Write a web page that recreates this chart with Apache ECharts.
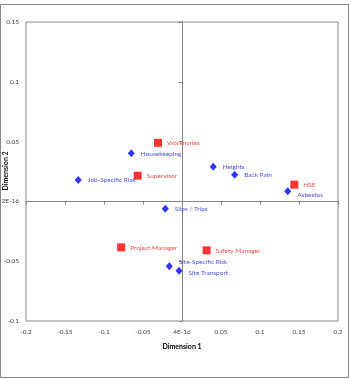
<!DOCTYPE html>
<html>
<head>
<meta charset="utf-8">
<script src="https://cdn.jsdelivr.net/npm/echarts@6/dist/echarts.min.js"></script>
<style>html,body{margin:0;padding:0;background:#fff;}#c{width:350px;height:379px;}</style>
</head>
<body>
<div id="c"></div>
<script>
// Risk factors (blue diamonds)
const riskNames = ['Housekeeping', 'Job-Specific Risk', 'Heights', 'Back Pain', 'Asbestos', 'Slips / Trips', 'Site-Specific Risk', 'Site Transport'];
const riskX = [-0.065, -0.133, 0.040, 0.0675, 0.1355, -0.0214, -0.0163, -0.0038];
const riskY = [0.0402, 0.0179, 0.029, 0.0223, 0.0084, -0.0061, -0.0543, -0.058];
// Roles (red squares)
const roleNames = ['Workmates', 'Supervisor', 'HSE', 'Project Manager', 'Safety Manager'];
const roleX = [-0.0308, -0.0568, 0.144, -0.078, 0.0316];
const roleY = [0.049, 0.0215, 0.014, -0.0384, -0.0409];
// Tick labels
const xZeroLabel = '4E-16';
const yZeroLabel = '2E-16';

const labelOffsets = {
  'Housekeeping': [0, 1],
  'Site-Specific Risk': [0, -4],
  'Site Transport': [0, 2],
  'Asbestos': [0, 4],
  'Project Manager': [0, 1],
  'Safety Manager': [0, 1]
};

const FONT = 'Lato';
function fmt(zero) {
  return function (v) {
    if (Math.abs(v) < 1e-9) return zero;
    return String(Math.round(v * 100) / 100);
  };
}
function mkData(names, xs, ys) {
  return names.map((n, i) => ({
    name: n,
    value: [xs[i], ys[i]],
    label: { offset: labelOffsets[n] || [0, 0] }
  }));
}

const axisColor = '#868686';
const labelColor = '#404040';

const chart = echarts.init(document.getElementById('c'));
const baseX = { type: 'value', min: -0.2, max: 0.2, interval: 0.05, splitLine: { show: false } };
const baseY = { type: 'value', min: -0.1, max: 0.15, interval: 0.05, splitLine: { show: false } };

chart.setOption({
  animation: false,
  backgroundColor: '#fff',
  graphic: [
    {
      type: 'rect', shape: { x: 0.5, y: 4.5, width: 348, height: 373 },
      style: { fill: 'none', stroke: axisColor, lineWidth: 1 }, silent: true, z: -1
    },
    {
      type: 'text', x: 6, y: 171, rotation: Math.PI / 2,
      style: { text: 'Dimension 2', fontWeight: 'bold', fontSize: 7, fontFamily: FONT, fill: '#000', align: 'center', verticalAlign: 'middle' },
      silent: true
    }
  ],
  grid: { left: 26, right: 12, top: 22, bottom: 58, outerBoundsMode: 'none', containLabel: false, show: true, borderColor: axisColor, borderWidth: 1, backgroundColor: 'transparent' },
  xAxis: [
    Object.assign({}, baseX, {
      position: 'bottom',
      axisLine: { show: false, onZero: false },
      axisTick: { show: false },
      axisLabel: { formatter: fmt(xZeroLabel), color: labelColor, fontSize: 6.5, fontFamily: FONT, margin: 7 },
      name: 'Dimension 1', nameLocation: 'middle', nameGap: 22,
      nameTextStyle: { fontWeight: 'bold', fontSize: 7, fontFamily: FONT, color: '#000' }
    }),
    Object.assign({}, baseX, {
      position: 'bottom',
      axisLine: { show: true, onZero: true, onZeroAxisIndex: 0, lineStyle: { color: axisColor, width: 1 } },
      axisTick: { show: true, inside: false, length: 3, lineStyle: { color: axisColor } },
      axisLabel: { show: false }
    }),
    Object.assign({}, baseX, {
      position: 'top',
      axisLine: { show: true, onZero: true, onZeroAxisIndex: 0, lineStyle: { color: axisColor, width: 1 } },
      axisTick: { show: true, inside: true, length: 3, lineStyle: { color: axisColor } },
      axisLabel: { show: false }
    })
  ],
  yAxis: [
    Object.assign({}, baseY, {
      position: 'left',
      axisLine: { show: false, onZero: false },
      axisTick: { show: false },
      axisLabel: { formatter: fmt(yZeroLabel), color: labelColor, fontSize: 6.5, fontFamily: FONT, margin: 7 }
    }),
    Object.assign({}, baseY, {
      position: 'left',
      axisLine: { show: true, onZero: true, onZeroAxisIndex: 0, lineStyle: { color: axisColor, width: 1 } },
      axisTick: { show: true, inside: false, length: 3, lineStyle: { color: axisColor } },
      axisLabel: { show: false }
    }),
    Object.assign({}, baseY, {
      position: 'right',
      axisLine: { show: true, onZero: true, onZeroAxisIndex: 0, lineStyle: { color: axisColor, width: 1 } },
      axisTick: { show: true, inside: true, length: 3, lineStyle: { color: axisColor } },
      axisLabel: { show: false }
    })
  ],
  series: [
    {
      type: 'scatter', name: 'Risks', xAxisIndex: 0, yAxisIndex: 0,
      symbol: 'diamond', symbolSize: [7, 8],
      itemStyle: { color: '#0000FF' },
      label: { show: true, position: 'right', distance: 6, formatter: '{b}', color: '#2222CC', fontSize: 6.5, fontFamily: FONT },
      data: mkData(riskNames, riskX, riskY)
    },
    {
      type: 'scatter', name: 'Roles', xAxisIndex: 0, yAxisIndex: 0,
      symbol: 'rect', symbolSize: 8,
      itemStyle: { color: '#FF0000' },
      label: { show: true, position: 'right', distance: 5, formatter: '{b}', color: '#E52020', fontSize: 6.5, fontFamily: FONT },
      data: mkData(roleNames, roleX, roleY)
    }
  ]
});
</script>
</body>
</html>
